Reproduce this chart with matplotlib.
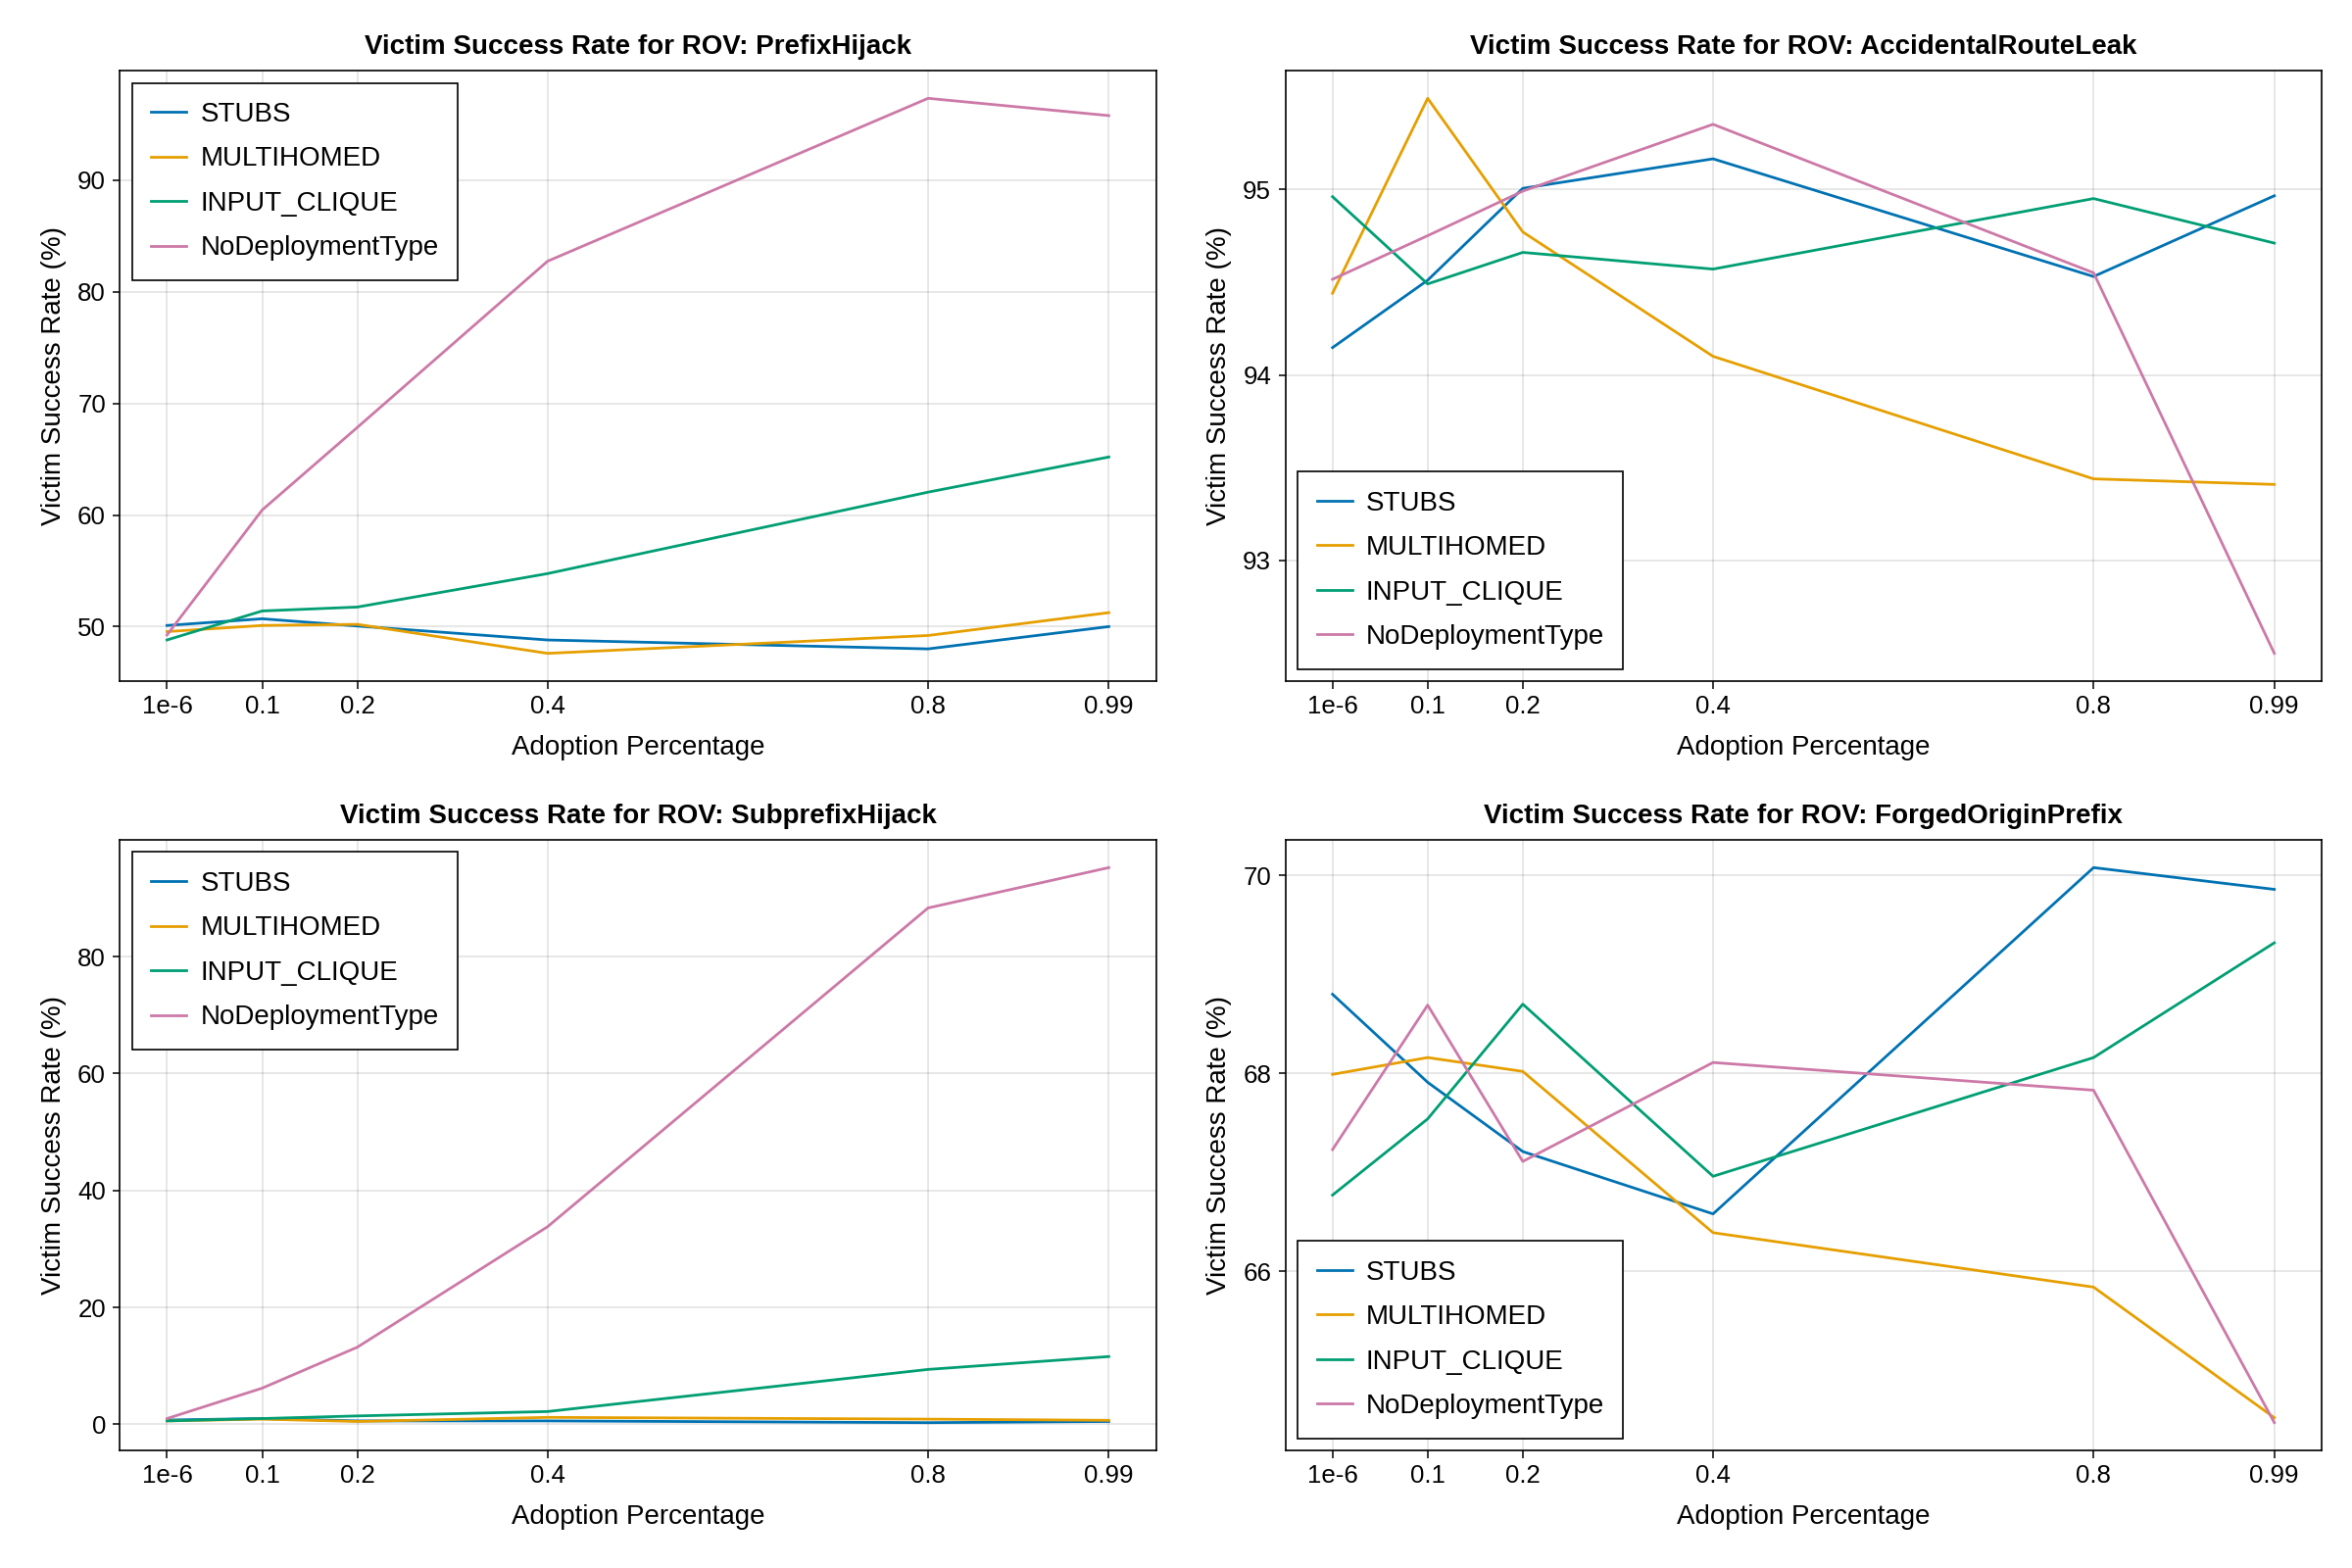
import matplotlib
matplotlib.use('Agg')
import matplotlib.pyplot as plt

plt.rcParams['font.family'] = ['Liberation Sans', 'DejaVu Sans']

adoption = [1e-6, 0.1, 0.2, 0.4, 0.8, 0.99]
adoption_labels = ['1e-6', '0.1', '0.2', '0.4', '0.8', '0.99']
series_names = ['STUBS', 'MULTIHOMED', 'INPUT_CLIQUE', 'NoDeploymentType']
colors = ['#0072B2', '#E69F00', '#009E73', '#CC79A7']

# PrefixHijack
prefix_stubs = [50.1, 50.7, 50.05, 48.8, 48.0, 50.0]
prefix_multi = [49.55, 50.1, 50.2, 47.6, 49.2, 51.25]
prefix_clique = [48.8, 51.4, 51.75, 54.75, 62.05, 65.2]
prefix_nodep = [49.25, 60.45, 67.85, 82.75, 97.35, 95.8]

# AccidentalRouteLeak
leak_stubs = [94.147, 94.51, 95.005, 95.164, 94.53, 94.965]
leak_multi = [94.44, 95.49, 94.77, 94.10, 93.44, 93.41]
leak_clique = [94.96, 94.49, 94.66, 94.57, 94.95, 94.71]
leak_nodep = [94.515, 94.75, 94.99, 95.35, 94.55, 92.50]

# SubprefixHijack
sub_stubs = [0.75, 1.0, 0.6, 0.6, 0.3, 0.5]
sub_multi = [0.6, 0.9, 0.5, 1.2, 0.9, 0.7]
sub_clique = [0.6, 1.0, 1.45, 2.2, 9.4, 11.6]
sub_nodep = [1.0, 6.2, 13.2, 33.8, 88.3, 95.2]

# ForgedOriginPrefix
forged_stubs = [68.80, 67.91, 67.21, 66.58, 70.08, 69.86]
forged_multi = [67.99, 68.16, 68.02, 66.39, 65.84, 64.52]
forged_clique = [66.77, 67.54, 68.70, 66.96, 68.16, 69.32]
forged_nodep = [67.23, 68.69, 67.11, 68.11, 67.83, 64.47]

panels = [
    ('PrefixHijack', [prefix_stubs, prefix_multi, prefix_clique, prefix_nodep], [50, 60, 70, 80, 90], 'upper left'),
    ('AccidentalRouteLeak', [leak_stubs, leak_multi, leak_clique, leak_nodep], [93, 94, 95], 'lower left'),
    ('SubprefixHijack', [sub_stubs, sub_multi, sub_clique, sub_nodep], [0, 20, 40, 60, 80], 'upper left'),
    ('ForgedOriginPrefix', [forged_stubs, forged_multi, forged_clique, forged_nodep], [66, 68, 70], 'lower left'),
]

fs_tick = 9.3
fs = 10.0
fig, axes = plt.subplots(2, 2, figsize=(12, 8), dpi=200)
plt.subplots_adjust(left=0.051, right=0.987, top=0.955, bottom=0.075, wspace=0.125, hspace=0.26)

for ax, (name, data, yticks, loc) in zip(axes.flat, panels):
    for vals, label, c in zip(data, series_names, colors):
        ax.plot(adoption, vals, color=c, linewidth=1.0, label=label)
    ax.set_xticks(adoption)
    ax.set_xticklabels(adoption_labels)
    ax.set_yticks(yticks)
    ax.grid(True, color='black', alpha=0.12, linewidth=0.55)
    ax.set_axisbelow(True)
    for s in ax.spines.values():
        s.set_linewidth(0.6)
    ax.tick_params(labelsize=fs_tick, width=0.55, length=2.7, pad=2.5)
    ax.set_title('Victim Success Rate for ROV: ' + name, fontsize=fs, fontweight='bold', pad=6)
    ax.set_xlabel('Adoption Percentage', fontsize=fs, labelpad=6)
    ax.set_ylabel('Victim Success Rate (%)', fontsize=fs, labelpad=4)
    leg = ax.legend(loc=loc, fontsize=fs, fancybox=False, framealpha=1, edgecolor='black',
                    handlelength=1.3, labelspacing=0.7, borderaxespad=0.45,
                    borderpad=0.7, handletextpad=0.5)
    leg.get_frame().set_linewidth(0.6)

plt.savefig('out.png')
